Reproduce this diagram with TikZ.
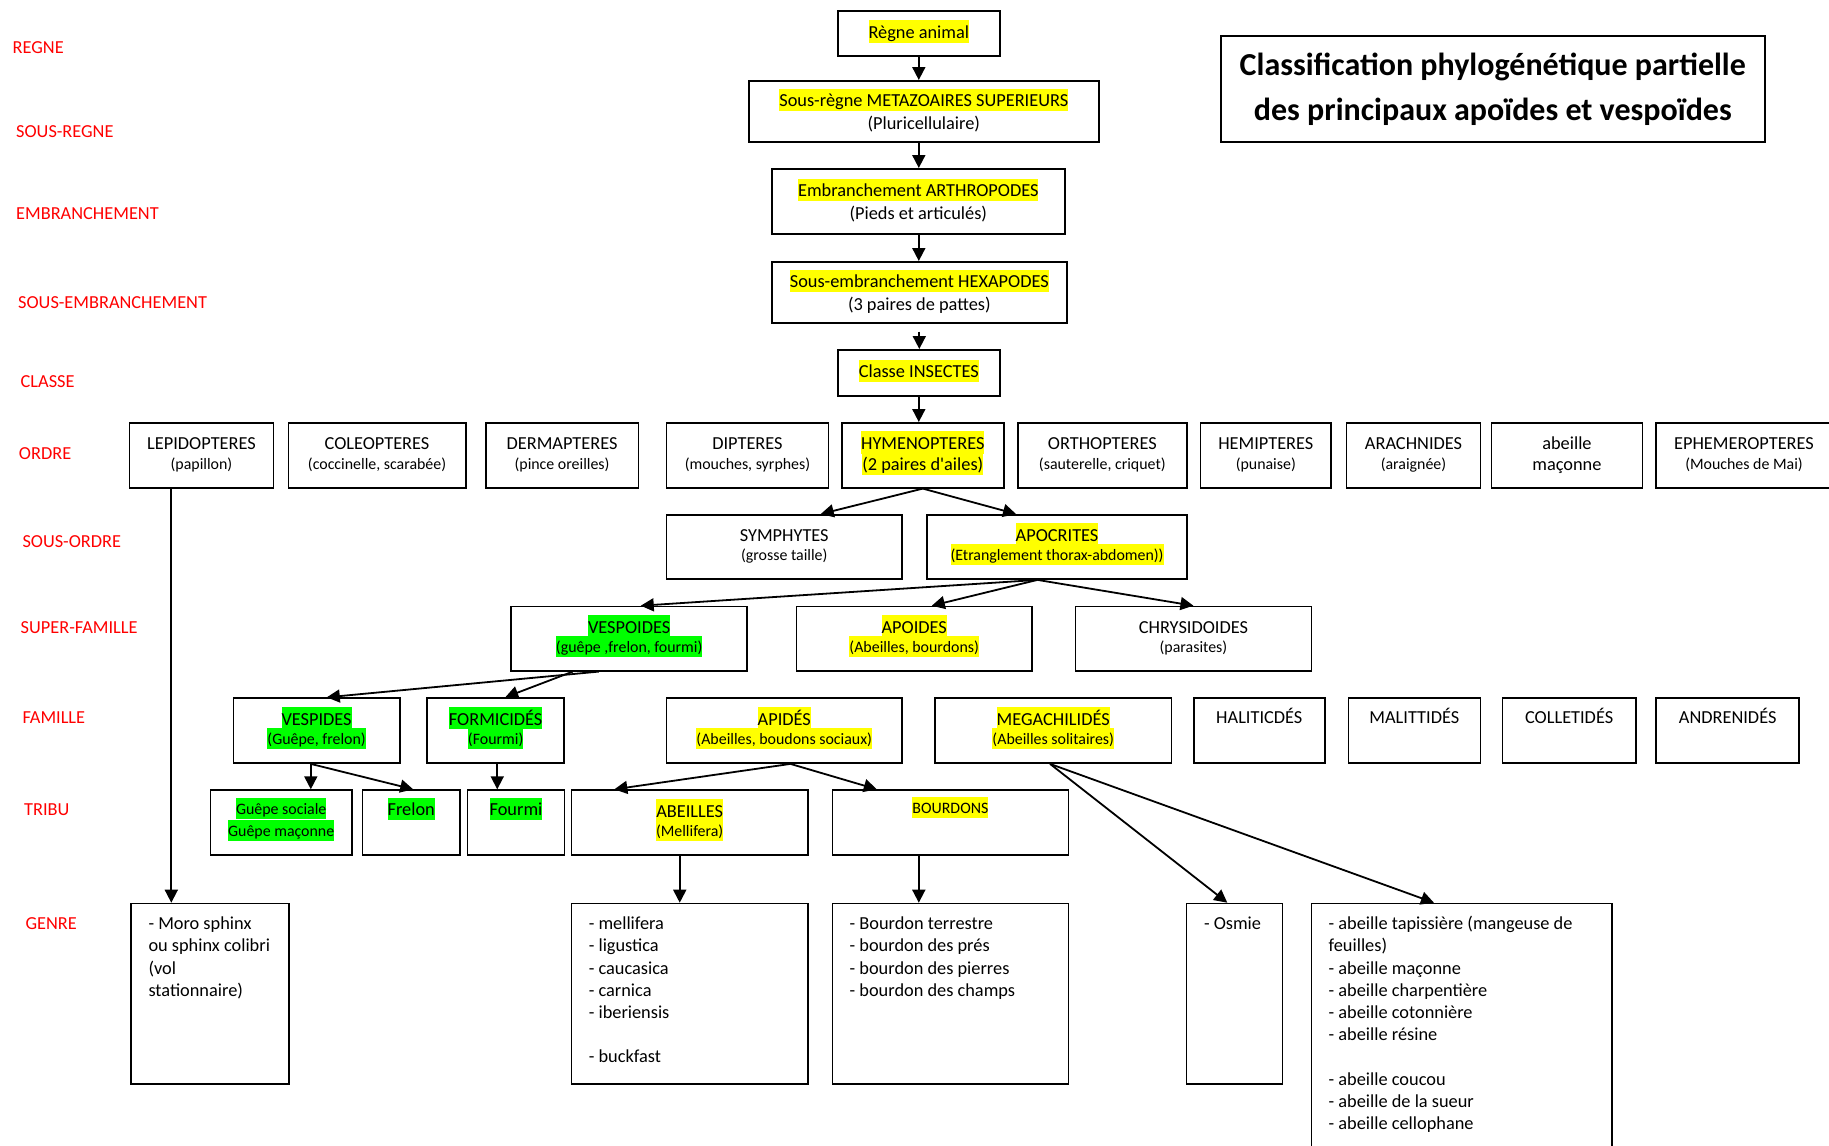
\documentclass[tikz,border=0pt]{standalone}
\usepackage{fontspec}
\setmainfont{Carlito}
\usetikzlibrary{arrows.meta}
\definecolor{hly}{RGB}{255,255,0}
\definecolor{hlg}{RGB}{0,255,0}
\definecolor{lblred}{RGB}{255,0,0}
\newcommand\fA{\fontsize{18.33pt}{22.4pt}\selectfont}
\newcommand\fL{\fontsize{18.33pt}{22.2pt}\selectfont}
\newcommand\fB{\fontsize{15.9pt}{22.4pt}\selectfont}
\newcommand\fT{\fontsize{32pt}{44.4pt}\selectfont\bfseries}
\newcommand\Ls{\rule[-4.4pt]{0pt}{22.4pt}}
\newcommand\Lt{\rule[-4.4pt]{0pt}{22.2pt}}
\newcommand\Ts{\rule[-13pt]{0pt}{44.4pt}}
\newcommand\hA[2]{{\setlength\fboxsep{0pt}\colorbox{#1}{\rule[-4.4pt]{0pt}{22.4pt}#2}}}
\newcommand\hB[2]{{\fB\setlength\fboxsep{0pt}\colorbox{#1}{\rule[-4.4pt]{0pt}{21pt}#2}}}
\newcommand\sm[1]{{\fB #1}}
\newcommand\bx[5]{\node[box,anchor=north west,minimum width={#4pt-#2pt},minimum height={#5pt-#3pt}] (#1) at (#2,#3) {};}
\newcommand\tx[3][]{\node[txt,#1] (#2-t) at (#2.center) {#3};}
\newcommand\ty[3]{\node[txt,yshift=2.7pt] (#1-t) at (#1.center) {#2\\[-3pt]\Ls #3};}
\begin{document}
\begin{tikzpicture}[x=1pt,y=-1pt,
  box/.style={draw=black,line width=1.6pt,inner sep=0pt},
  txt/.style={align=center,inner sep=0pt,font=\fA},
  lst/.style={align=left,inner sep=0pt,font=\fL,anchor=north west},
  lab/.style={text=lblred,font=\fA,inner sep=0pt,anchor=west},
  arr/.style={line width=1.8pt,-{Triangle[length=13pt,width=13pt]}}]
\path[use as bounding box,fill=white] (0,0) rectangle (1829,1146);

% red level labels
\node[lab] (l1) at (12.5,48) {REGNE};
\node[lab] (l2) at (16,131.7) {SOUS-REGNE};
\node[lab] (l3) at (16,214) {EMBRANCHEMENT};
\node[lab] (l4) at (18,303) {SOUS-EMBRANCHEMENT};
\node[lab] (l5) at (20.5,382) {CLASSE};
\node[lab] (l6) at (18.75,453.3) {ORDRE};
\node[lab] (l7) at (22.3,541.7) {SOUS-ORDRE};
\node[lab] (l8) at (20.5,627.7) {SUPER-FAMILLE};
\node[lab] (l9) at (22.3,717.7) {FAMILLE};
\node[lab] (l10) at (24,809.3) {TRIBU};
\node[lab] (l11) at (25.3,923.3) {GENRE};

% title
\bx{title}{1220}{35}{1764}{141}
\node[align=center,inner sep=0pt,font=\fT] (title-t) at (title.center) {\Ts Classification phylogénétique partielle\\\Ts des principaux apoïdes et vespoïdes};

% top chain
\bx{regne}{837}{10}{999}{55}
\tx[yshift=2pt]{regne}{\hA{hly}{Règne animal}}
\bx{sregne}{748}{80}{1098}{141}
\tx{sregne}{\hA{hly}{Sous-règne METAZOAIRES SUPERIEURS}\\\Ls(Pluricellulaire)}
\bx{emb}{771}{168}{1064}{233}
\tx{emb}{\hA{hly}{Embranchement ARTHROPODES}\\\Ls(Pieds et articulés)}
\bx{semb}{771}{261}{1066}{322}
\tx{semb}{\hA{hly}{Sous-embranchement HEXAPODES}\\\Ls(3 paires de pattes)}
\bx{classe}{837}{349}{999}{395}
\tx[yshift=2pt]{classe}{\hA{hly}{Classe INSECTES}}

% ORDRE
\bx{lepi}{128.6}{422}{272.8}{487}
\ty{lepi}{\Ls LEPIDOPTERES}{\sm{(papillon)}}
\bx{coleo}{287.5}{422}{465}{487}
\ty{coleo}{\Ls COLEOPTERES}{\sm{(coccinelle, scarabée)}}
\bx{derma}{485}{422}{637.5}{487}
\ty{derma}{\Ls DERMAPTERES}{\sm{(pince oreilles)}}
\bx{dipt}{665.6}{422}{827.7}{487}
\ty{dipt}{\Ls DIPTERES}{\sm{(mouches, syrphes)}}
\bx{hymen}{841}{422}{1003}{487}
\tx[yshift=2.3pt]{hymen}{\hA{hly}{HYMENOPTERES}\\[-1pt]\hA{hly}{(2 paires d\textquotesingle ailes)}}
\bx{ortho}{1017}{422}{1186}{487}
\ty{ortho}{\Ls ORTHOPTERES}{\sm{(sauterelle, criquet)}}
\bx{hemi}{1199.8}{422}{1330.2}{487}
\ty{hemi}{\Ls HEMIPTERES}{\sm{(punaise)}}
\bx{arach}{1345.8}{422}{1479.6}{487}
\ty{arach}{\Ls ARACHNIDES}{\sm{(araignée)}}
\bx{abmac}{1490.8}{422}{1641.5}{487}
\tx[yshift=2.3pt]{abmac}{\Ls abeille\\[-1pt]\Ls maçonne}
\bx{ephem}{1655.4}{422}{1831}{487}
\ty{ephem}{\Ls EPHEMEROPTERES}{\sm{(Mouches de Mai)}}

% SOUS-ORDRE
\bx{symp}{665.6}{514}{901.3}{578.3}
\ty{symp}{\Ls SYMPHYTES}{\sm{(grosse taille)}}
\bx{apoc}{926.3}{514}{1186.2}{578.3}
\ty{apoc}{\hA{hly}{APOCRITES}}{\hB{hly}{(Etranglement thorax-abdomen))}}

% SUPER-FAMILLE
\bx{vespo}{510.3}{605.7}{746.4}{670}
\ty{vespo}{\hA{hlg}{VESPOIDES}}{\hB{hlg}{(guêpe ,frelon, fourmi)}}
\bx{apoid}{795.5}{605.7}{1031.3}{670}
\ty{apoid}{\hA{hly}{APOIDES}}{\hB{hly}{(Abeilles, bourdons)}}
\bx{chrys}{1074.6}{605.7}{1310.7}{670}
\ty{chrys}{\Ls CHRYSIDOIDES}{\sm{(parasites)}}

% FAMILLE
\bx{vespi}{232.6}{697.3}{399}{762.3}
\ty{vespi}{\hA{hlg}{VESPIDES}}{\hB{hlg}{(Guêpe, frelon)}}
\bx{formi}{426.3}{697.3}{563.4}{762.3}
\ty{formi}{\hA{hlg}{FORMICIDÉS}}{\hB{hlg}{(Fourmi)}}
\bx{apide}{665.6}{697.3}{901.3}{762.3}
\ty{apide}{\hA{hly}{APIDÉS}}{\hB{hly}{(Abeilles, boudons sociaux)}}
\bx{megac}{934.4}{697.3}{1170.5}{762.3}
\ty{megac}{\hA{hly}{MEGACHILIDÉS}}{\hB{hly}{(Abeilles solitaires)}}
\bx{halit}{1192.9}{697.3}{1324.1}{762.3}
\tx[yshift=2.3pt]{halit}{\Ls HALITICDÉS\\\Ls}
\bx{malit}{1347.5}{697.3}{1479.6}{762.3}
\tx[yshift=2.3pt]{malit}{\Ls MALITTIDÉS\\\Ls}
\bx{colle}{1501.7}{697.3}{1635}{762.3}
\tx[yshift=2.3pt]{colle}{\Ls COLLETIDÉS\\\Ls}
\bx{andre}{1655.4}{697.3}{1798.3}{762.3}
\tx[yshift=2.3pt]{andre}{\Ls ANDRENIDÉS\\\Ls}

% TRIBU
\bx{gsoc}{209.5}{789.3}{351.3}{854.3}
\tx[yshift=4pt]{gsoc}{\Ls\hB{hlg}{Guêpe sociale}\\\Ls\hB{hlg}{Guêpe maçonne}}
\bx{frel}{361.6}{789.3}{459.2}{854.3}
\tx[yshift=2.3pt]{frel}{\hA{hlg}{Frelon}\\\Ls}
\bx{fourm}{466.7}{789.3}{563.7}{854.3}
\tx[yshift=2.3pt]{fourm}{\hA{hlg}{Fourmi}\\\Ls}
\bx{abeil}{570.6}{789.3}{807.1}{854.3}
\ty{abeil}{\hA{hly}{ABEILLES}}{\hB{hly}{(Mellifera)}}
\bx{bourd}{831.5}{789.3}{1067.7}{854.3}
\tx[yshift=4.5pt]{bourd}{\Ls\hB{hly}{BOURDONS}\\\Ls}

% GENRE
\bx{moro}{130.3}{902.7}{288.2}{1083.3}
\node[lst] (moro-t) at ([xshift=18pt,yshift=-9pt]moro.north west) {\Lt - Moro sphinx\\\Lt ou sphinx colibri\\\Lt (vol\\\Lt stationnaire)};
\bx{mell}{570.6}{902.7}{807.1}{1083.3}
\node[lst] (mell-t) at ([xshift=18pt,yshift=-9pt]mell.north west) {\Lt - mellifera\\\Lt - ligustica\\\Lt - caucasica\\\Lt - carnica\\\Lt - iberiensis\\\Lt\\\Lt - buckfast};
\bx{bourg}{831.5}{902.7}{1067.7}{1083.3}
\node[lst] (bourg-t) at ([xshift=18pt,yshift=-9pt]bourg.north west) {\Lt - Bourdon terrestre\\\Lt - bourdon des prés\\\Lt - bourdon des pierres\\\Lt - bourdon des champs};
\bx{osmie}{1185.8}{902.7}{1281.6}{1083.3}
\node[lst] (osmie-t) at ([xshift=18pt,yshift=-9pt]osmie.north west) {\Lt - Osmie};
\bx{tapis}{1310.5}{902.7}{1611}{1160}
\node[lst] (tapis-t) at ([xshift=18pt,yshift=-9pt]tapis.north west) {\Lt - abeille tapissière (mangeuse de\\\Lt feuilles)\\\Lt - abeille maçonne\\\Lt - abeille charpentière\\\Lt - abeille cotonnière\\\Lt - abeille résine\\\Lt\\\Lt - abeille coucou\\\Lt - abeille de la sueur\\\Lt - abeille cellophane};

% connectors
\draw[arr] (regne.south) -- (regne.south |- sregne.north);
\draw[arr] (regne.south |- sregne.south) -- (regne.south |- emb.north);
\draw[arr] (regne.south |- emb.south) -- (regne.south |- semb.north);
\coordinate (sembS) at ([yshift=-8pt]semb.south);
\draw[arr] (sembS) -- (sembS |- classe.north);
\draw[arr] (classe.south) -- (classe.south |- hymen.north);
\draw[arr] (hymen.south) -- ([xshift=36.5pt]symp.north);
\draw[arr] (hymen.south) -- ([xshift=-41pt]apoc.north);
\coordinate (apocS) at ([xshift=-19.6pt]apoc.south);
\draw[arr] (apocS) -- ([xshift=11.6pt]vespo.north);
\draw[arr] (apocS) -- ([xshift=17.6pt]apoid.north);
\draw[arr] (apocS) -- (chrys.north);
\draw[arr] ([xshift=-30.4pt]vespo.south) -- ([xshift=10.2pt]vespi.north);
\draw[arr] ([xshift=-56.4pt]vespo.south) -- ([xshift=9.6pt]formi.north);
\coordinate (vespiS) at ([xshift=-5.8pt]vespi.south);
\draw[arr] (vespiS) -- (vespiS |- gsoc.north);
\draw[arr] (vespiS) -- ([xshift=2pt]frel.north);
\coordinate (formiS) at ([xshift=1.6pt]formi.south);
\draw[arr] (formiS) -- (formiS |- fourm.north);
\coordinate (apideS) at ([xshift=6.2pt]apide.south);
\draw[arr] (apideS) -- ([xshift=-75.3pt]abeil.north);
\draw[arr] (apideS) -- ([xshift=-73.6pt]bourd.north);
\coordinate (abeilS) at ([xshift=-9.9pt]abeil.south);
\draw[arr] (abeilS) -- (abeilS |- mell.north);
\coordinate (bourdS) at ([xshift=-31.6pt]bourd.south);
\draw[arr] (bourdS) -- (bourdS |- bourg.north);
\coordinate (megacS) at ([xshift=-3.2pt]megac.south);
\draw[arr] (megacS) -- ([xshift=-7.2pt]osmie.north);
\draw[arr] (megacS) -- ([xshift=-27.6pt]tapis.north);
\coordinate (lepiS) at ([xshift=-30.2pt]lepi.south);
\draw[arr] (lepiS) -- (lepiS |- moro.north);
\end{tikzpicture}
\end{document}
